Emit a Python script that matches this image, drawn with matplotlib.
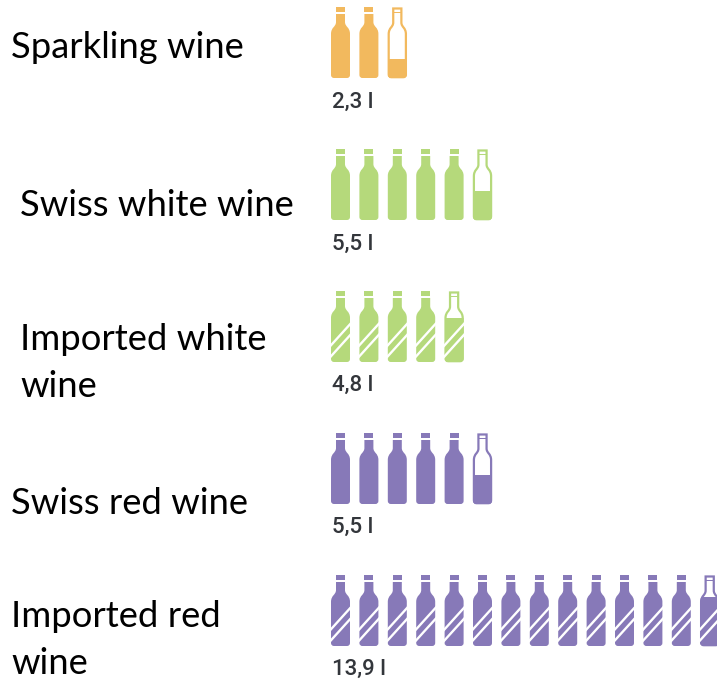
import math
import matplotlib
matplotlib.use("Agg")
import matplotlib.pyplot as plt
from matplotlib.patches import PathPatch, Rectangle, Polygon
from matplotlib.path import Path
from matplotlib.transforms import Affine2D

categories = ["Sparkling wine", "Swiss white wine", "Imported white\nwine", "Swiss red wine", "Imported red\nwine"]
litres = [2.3, 5.5, 4.8, 5.5, 13.9]
value_labels = ["2,3 l", "5,5 l", "4,8 l", "5,5 l", "13,9 l"]
imported = [False, False, True, False, True]
colors = ["#F2B95E", "#B5D97B", "#B5D97B", "#8779B8", "#8779B8"]
label_x = [11, 20, 20, 11, 11]
label_y = [48, 205, 363, 503, 640]
row_top = [7, 149, 291, 433, 575]
value_y = [102, 244, 385, 527, 669]

BW, BH, STEP = 19.0, 71.0, 28.4
X0 = 331.0

fig = plt.figure(figsize=(7.17, 6.81), dpi=100)
ax = fig.add_axes([0, 0, 1, 1])
ax.set_xlim(0, 717)
ax.set_ylim(681, 0)
ax.axis("off")


def body_path(top):
    """Bottle silhouette (neck + body), local px, y down, with neck starting at `top`."""
    v = [(5, top), (14, top), (14, 15), (14, 20), (19, 20), (19, 27),
         (19, 68), (19, 71), (16, 71), (3, 71), (0, 71), (0, 68),
         (0, 27), (0, 20), (5, 20), (5, 15), (5, top)]
    c = [Path.MOVETO, Path.LINETO, Path.LINETO, Path.CURVE4, Path.CURVE4, Path.CURVE4,
         Path.LINETO, Path.CURVE3, Path.CURVE3, Path.LINETO, Path.CURVE3, Path.CURVE3,
         Path.LINETO, Path.CURVE4, Path.CURVE4, Path.CURVE4, Path.CLOSEPOLY]
    return Path(v, c)


def draw_bottle(x, y, frac, color, striped):
    tr = Affine2D().translate(x, y) + ax.transData
    if frac >= 1:
        ax.add_patch(PathPatch(body_path(7), fc=color, ec="none", transform=tr))
        ax.add_patch(Rectangle((5, 0), 9, 5, fc=color, ec="none", transform=tr))
    else:
        inner = Path(body_path(0.7).vertices * [[(BW - 1.8) / BW, (BH - 1.6) / BH]] + [[0.9, 0.8]],
                     body_path(0.7).codes)
        ax.add_patch(PathPatch(inner, fc="white", ec=color, lw=1.6, transform=tr))
        ax.add_patch(Rectangle((5.5, 4.6), 8, 1.2, fc=color, ec="none", transform=tr))
        level = 67 - 50 * frac
        fill = Rectangle((0, level), BW, BH - level, fc=color, ec="none", transform=tr)
        ax.add_patch(fill)
        fill.set_clip_path(PathPatch(body_path(0.7), transform=tr))
    if striped:
        for left, right in ((52.5, 31.5), (63.5, 42.5)):
            ax.add_patch(Polygon([(-1, left + 1.1), (20, right - 1.1), (20, right + 2.4), (-1, left + 4.6)],
                                 fc="white", ec="none", transform=tr, zorder=3))


for i, val in enumerate(litres):
    n = math.ceil(val)
    for k in range(n):
        frac = min(1.0, val - k)
        draw_bottle(X0 + k * STEP, row_top[i], frac, colors[i], imported[i])
    ax.text(332, value_y[i], value_labels[i], family="Roboto", weight="medium", fontsize=16,
            color="#33363B", va="center", ha="left")
    ax.text(label_x[i], label_y[i], categories[i], family="Lato", fontsize=26.2, color="black",
            va="center", ha="left", linespacing=1.52)

fig.savefig("out.png", dpi=100)
